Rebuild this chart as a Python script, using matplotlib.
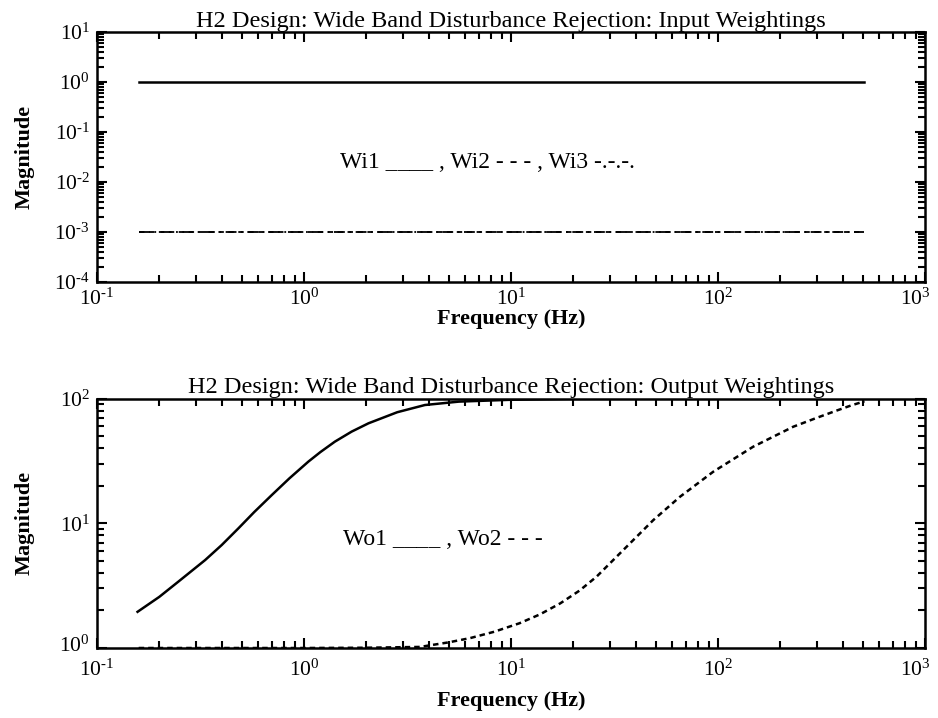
import numpy as np
import matplotlib
matplotlib.use("Agg")
import matplotlib.pyplot as plt
from matplotlib.ticker import LogLocator, FixedLocator, FixedFormatter, NullFormatter
from matplotlib.transforms import ScaledTranslation

plt.rcParams['font.family'] = ['Liberation Serif', 'DejaVu Serif']
plt.rcParams['mathtext.fontset'] = 'custom'
plt.rcParams['mathtext.rm'] = 'Liberation Serif'

# ---- data ----
freq_in = [0.159, 510.0]
wi1 = [1.0, 1.0]
wi2 = [1e-3, 1e-3]
wi3 = [1e-3, 1e-3]

freq_wo1 = [0.157, 0.20, 0.247, 0.333, 0.40, 0.482, 0.575, 0.698, 0.85, 1.05,
            1.20, 1.41, 1.70, 2.05, 2.82, 3.84, 5.6, 10.0, 20.0, 50.0, 100.0, 510.0]
wo1 = [1.95, 2.57, 3.40, 5.07, 6.68, 9.1, 12.3, 16.8, 22.9, 31.2,
       37.2, 45.1, 54.3, 63.3, 77.6, 88.7, 94.4, 97.7, 99.3, 99.8, 100.0, 100.0]

freq_wo2 = [0.159, 1.0, 2.0, 3.63, 5.0, 6.34, 8.3, 11.0, 13.8, 17.3, 21.4, 25.9,
            36.2, 48.7, 65.5, 94.9, 148.0, 231.0, 300.0, 374.0, 440.0, 510.0]
wo2 = [1.0, 1.0, 1.005, 1.02, 1.11, 1.20, 1.35, 1.58, 1.86, 2.28, 2.88, 3.73,
       6.49, 10.6, 16.3, 25.9, 41.1, 59.4, 70.0, 80.0, 88.0, 95.0]

xticks = [1e-1, 1e0, 1e1, 1e2, 1e3]
xticklabels = [r'$\mathregular{10^{\text{-}1}}$', r'$\mathregular{10^{0}}$', r'$\mathregular{10^{1}}$',
               r'$\mathregular{10^{2}}$', r'$\mathregular{10^{3}}$']
yticks_top = [1e-4, 1e-3, 1e-2, 1e-1, 1e0, 1e1]
yticklabels_top = [r'$\mathregular{10^{\text{-}4}}$', r'$\mathregular{10^{\text{-}3}}$',
                   r'$\mathregular{10^{\text{-}2}}$', r'$\mathregular{10^{\text{-}1}}$',
                   r'$\mathregular{10^{0}}$', r'$\mathregular{10^{1}}$']
yticks_bot = [1e0, 1e1, 1e2]
yticklabels_bot = [r'$\mathregular{10^{0}}$', r'$\mathregular{10^{1}}$', r'$\mathregular{10^{2}}$']

title_top = "H2 Design: Wide Band Disturbance Rejection: Input Weightings"
title_bot = "H2 Design: Wide Band Disturbance Rejection: Output Weightings"
note_top = "Wi1 ____ , Wi2 - - - , Wi3 -.-.-."
note_bot = "Wo1 ____ , Wo2 - - -"

fig = plt.figure(figsize=(9.38, 7.18), dpi=100)
ax1 = fig.add_axes([97/938, 1-282/718, 828/938, 250/718])
ax2 = fig.add_axes([97/938, 1-648/718, 828/938, 249.5/718])

lw = 1.8
ax1.plot(freq_in, wi1, color='black', lw=lw, ls='-')
ax1.plot(freq_in, wi2, color='black', lw=1.3, ls=(0, (3, 2.5)))
ax1.plot(freq_in, wi3, color='black', lw=1.3, ls=(0, (6, 2.5, 1, 2.5)))

ax2.plot(freq_wo1, wo1, color='black', lw=lw, ls='-')
ax2.plot(freq_wo2, wo2, color='black', lw=lw, ls=(0, (2.2, 1.6)))

for ax, yt, ytl, ylim, title, note, npos, xlab_y, xpad in [
        (ax1, yticks_top, yticklabels_top, (1e-4, 1e1), title_top, note_top, (0.294, 0.476), -0.108, 5),
        (ax2, yticks_bot, yticklabels_bot, (1e0, 1e2), title_bot, note_bot, (0.297, 0.433), -0.172, 8)]:
    ax.set_xscale('log')
    ax.set_yscale('log')
    ax.set_xlim(1e-1, 1e3)
    ax.set_ylim(*ylim)
    ax.xaxis.set_major_locator(FixedLocator(xticks))
    ax.xaxis.set_major_formatter(FixedFormatter(xticklabels))
    ax.yaxis.set_major_locator(FixedLocator(yt))
    ax.yaxis.set_major_formatter(FixedFormatter(ytl))
    ax.xaxis.set_minor_locator(LogLocator(base=10, subs=np.arange(2, 10), numticks=100))
    ax.yaxis.set_minor_locator(LogLocator(base=10, subs=np.arange(2, 10), numticks=100))
    ax.xaxis.set_minor_formatter(NullFormatter())
    ax.yaxis.set_minor_formatter(NullFormatter())
    ax.tick_params(which='both', direction='in', top=True, right=True, width=1.5, labelsize=15.5)
    ax.tick_params(axis='x', which='both', pad=xpad)
    ax.tick_params(axis='y', which='both', pad=5)
    ax.tick_params(which='major', length=7)
    ax.tick_params(which='minor', length=5)
    for s in ax.spines.values():
        s.set_linewidth(1.8)
    ax.set_title(title, fontsize=17.5, pad=0)
    ax.set_ylabel('Magnitude', fontsize=16, fontweight='bold')
    ax.set_xlabel('Frequency (Hz)', fontsize=16, fontweight='bold')
    ax.yaxis.set_label_coords(-0.075, 0.5)
    ax.xaxis.set_label_coords(0.5, xlab_y)
    ax.text(npos[0], npos[1], note, transform=ax.transAxes, fontsize=17,
            ha='left', va='center')
    # keep the last x tick label inside the figure
    last = ax.xaxis.get_major_ticks()[-1].label1
    last.set_transform(last.get_transform() + ScaledTranslation(-10/100, 0, fig.dpi_scale_trans))

# lift the lowest y tick label of the lower panel clear of the x tick label
low = ax2.yaxis.get_major_ticks()[0].label1
low.set_transform(low.get_transform() + ScaledTranslation(0, 4/100, fig.dpi_scale_trans))

fig.savefig('out.png', dpi=100)
